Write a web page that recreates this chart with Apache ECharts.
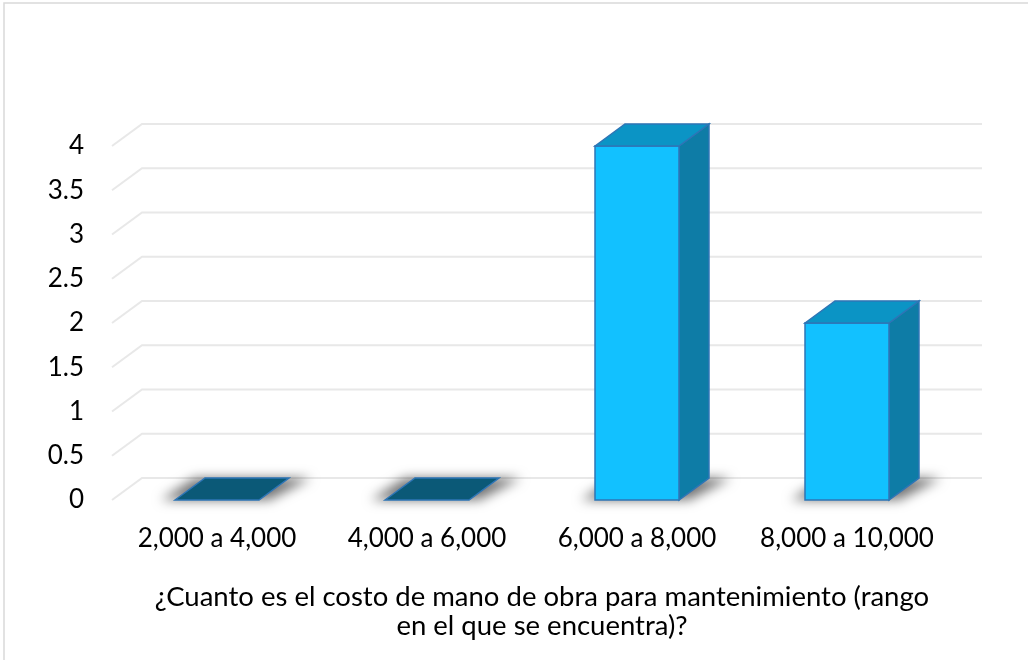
<!DOCTYPE html>
<html>
<head>
<meta charset="utf-8">
<script src="https://cdn.jsdelivr.net/npm/echarts@6/dist/echarts.min.js"></script>
<style>
  html, body { margin: 0; padding: 0; background: #fff; }
  #chart { width: 1028px; height: 660px; }
</style>
</head>
<body>
<div id="chart"></div>
<script>
// Cost ranges (categories) and how many answers fell in each
const categories = ['2,000 a 4,000', '4,000 a 6,000', '6,000 a 8,000', '8,000 a 10,000'];
const counts = [0, 0, 4, 2];
const yTicks = [0, 0.5, 1, 1.5, 2, 2.5, 3, 3.5, 4];
const axisTitle = '¿Cuanto es el costo de mano de obra para mantenimiento (rango\nen el que se encuentra)?';

// depth of the 3D projection (pixels)
const DX = 30, DY = -22;
const FONT = 'Lato, "Open Sans", sans-serif';

const chart = echarts.init(document.getElementById('chart'), null, { renderer: 'canvas' });

function renderWall(params, api) {
  const v = api.value(1);
  const band = api.size([1, 0])[0];
  const p = api.coord([0, v]);
  const left = p[0] - band / 2;
  const right = left + band * categories.length;
  const y = p[1];
  return {
    type: 'polyline',
    shape: { points: [[left, y], [left + DX, y + DY], [right + DX, y + DY]] },
    style: { stroke: '#e8e8e8', lineWidth: 2, fill: null },
    silent: true
  };
}

function renderBar(params, api) {
  const i = api.value(0);
  const v = api.value(1);
  const base = api.coord([i, 0]);
  const top = api.coord([i, v]);
  const band = api.size([1, 0])[0];
  const w = band * 0.4;
  const x0 = base[0] - w / 2, x1 = base[0] + w / 2;
  const yb = base[1], yt = top[1];
  const stroke = '#2E75B6';
  const OFF = 3000;
  const children = [];
  // soft floor shadow (shape is drawn off-canvas, only its blurred shadow shows)
  children.push({
    type: 'polygon',
    shape: { points: [
      [x0 - 14 - OFF, yb], [x1 + 10 - OFF, yb],
      [x1 + DX + 22 - OFF, yb + DY], [x0 + DX - 10 - OFF, yb + DY]
    ] },
    style: {
      fill: 'rgba(0,0,0,1)',
      shadowColor: 'rgba(0,0,0,0.55)',
      shadowBlur: 12,
      shadowOffsetX: OFF
    },
    silent: true
  });
  if (v > 0) {
    children.push({
      type: 'polygon',
      shape: { points: [[x1, yt], [x1 + DX, yt + DY], [x1 + DX, yb + DY], [x1, yb]] },
      style: { fill: '#0E7CA6', stroke: stroke, lineWidth: 1.5 }
    });
    children.push({
      type: 'rect',
      shape: { x: x0, y: yt, width: w, height: yb - yt },
      style: { fill: '#12C1FF', stroke: stroke, lineWidth: 1.5 }
    });
  }
  children.push({
    type: 'polygon',
    shape: { points: [[x0, yt], [x0 + DX, yt + DY], [x1 + DX, yt + DY], [x1, yt]] },
    style: { fill: v > 0 ? '#0B94C5' : '#0B5977', stroke: stroke, lineWidth: 1.5 }
  });
  return { type: 'group', children: children };
}

const option = {
  backgroundColor: '#ffffff',
  animation: false,
  title: {
    text: axisTitle,
    left: 537,
    top: 578,
    textAlign: 'center',
    textStyle: {
      fontFamily: FONT,
      fontSize: 27.5,
      fontWeight: 'normal',
      color: '#000',
      lineHeight: 29
    }
  },
  graphic: [{
    type: 'rect',
    shape: { x: 4, y: 3, width: 1100, height: 800 },
    style: { fill: null, stroke: '#d9d9d9', lineWidth: 1.5 },
    silent: true
  }],
  grid: { left: 112, right: 76, top: 146, bottom: 160 },
  xAxis: {
    type: 'category',
    data: categories,
    axisLine: { show: false },
    axisTick: { show: false },
    axisLabel: { fontFamily: FONT, fontSize: 26, color: '#000', margin: 26, interval: 0 },
    splitLine: { show: false }
  },
  yAxis: {
    type: 'value',
    min: 0,
    max: 4,
    interval: 0.5,
    axisLine: { show: false },
    axisTick: { show: false },
    splitLine: { show: false },
    axisLabel: { fontFamily: FONT, fontSize: 26, color: '#000', margin: 28 }
  },
  series: [
    {
      type: 'custom',
      name: 'walls',
      renderItem: renderWall,
      data: yTicks.map(v => [0, v]),
      z: 1,
      silent: true
    },
    {
      type: 'custom',
      name: 'counts',
      renderItem: renderBar,
      data: counts.map((v, i) => [i, v]),
      z: 2
    }
  ]
};

chart.setOption(option);
</script>
</body>
</html>
